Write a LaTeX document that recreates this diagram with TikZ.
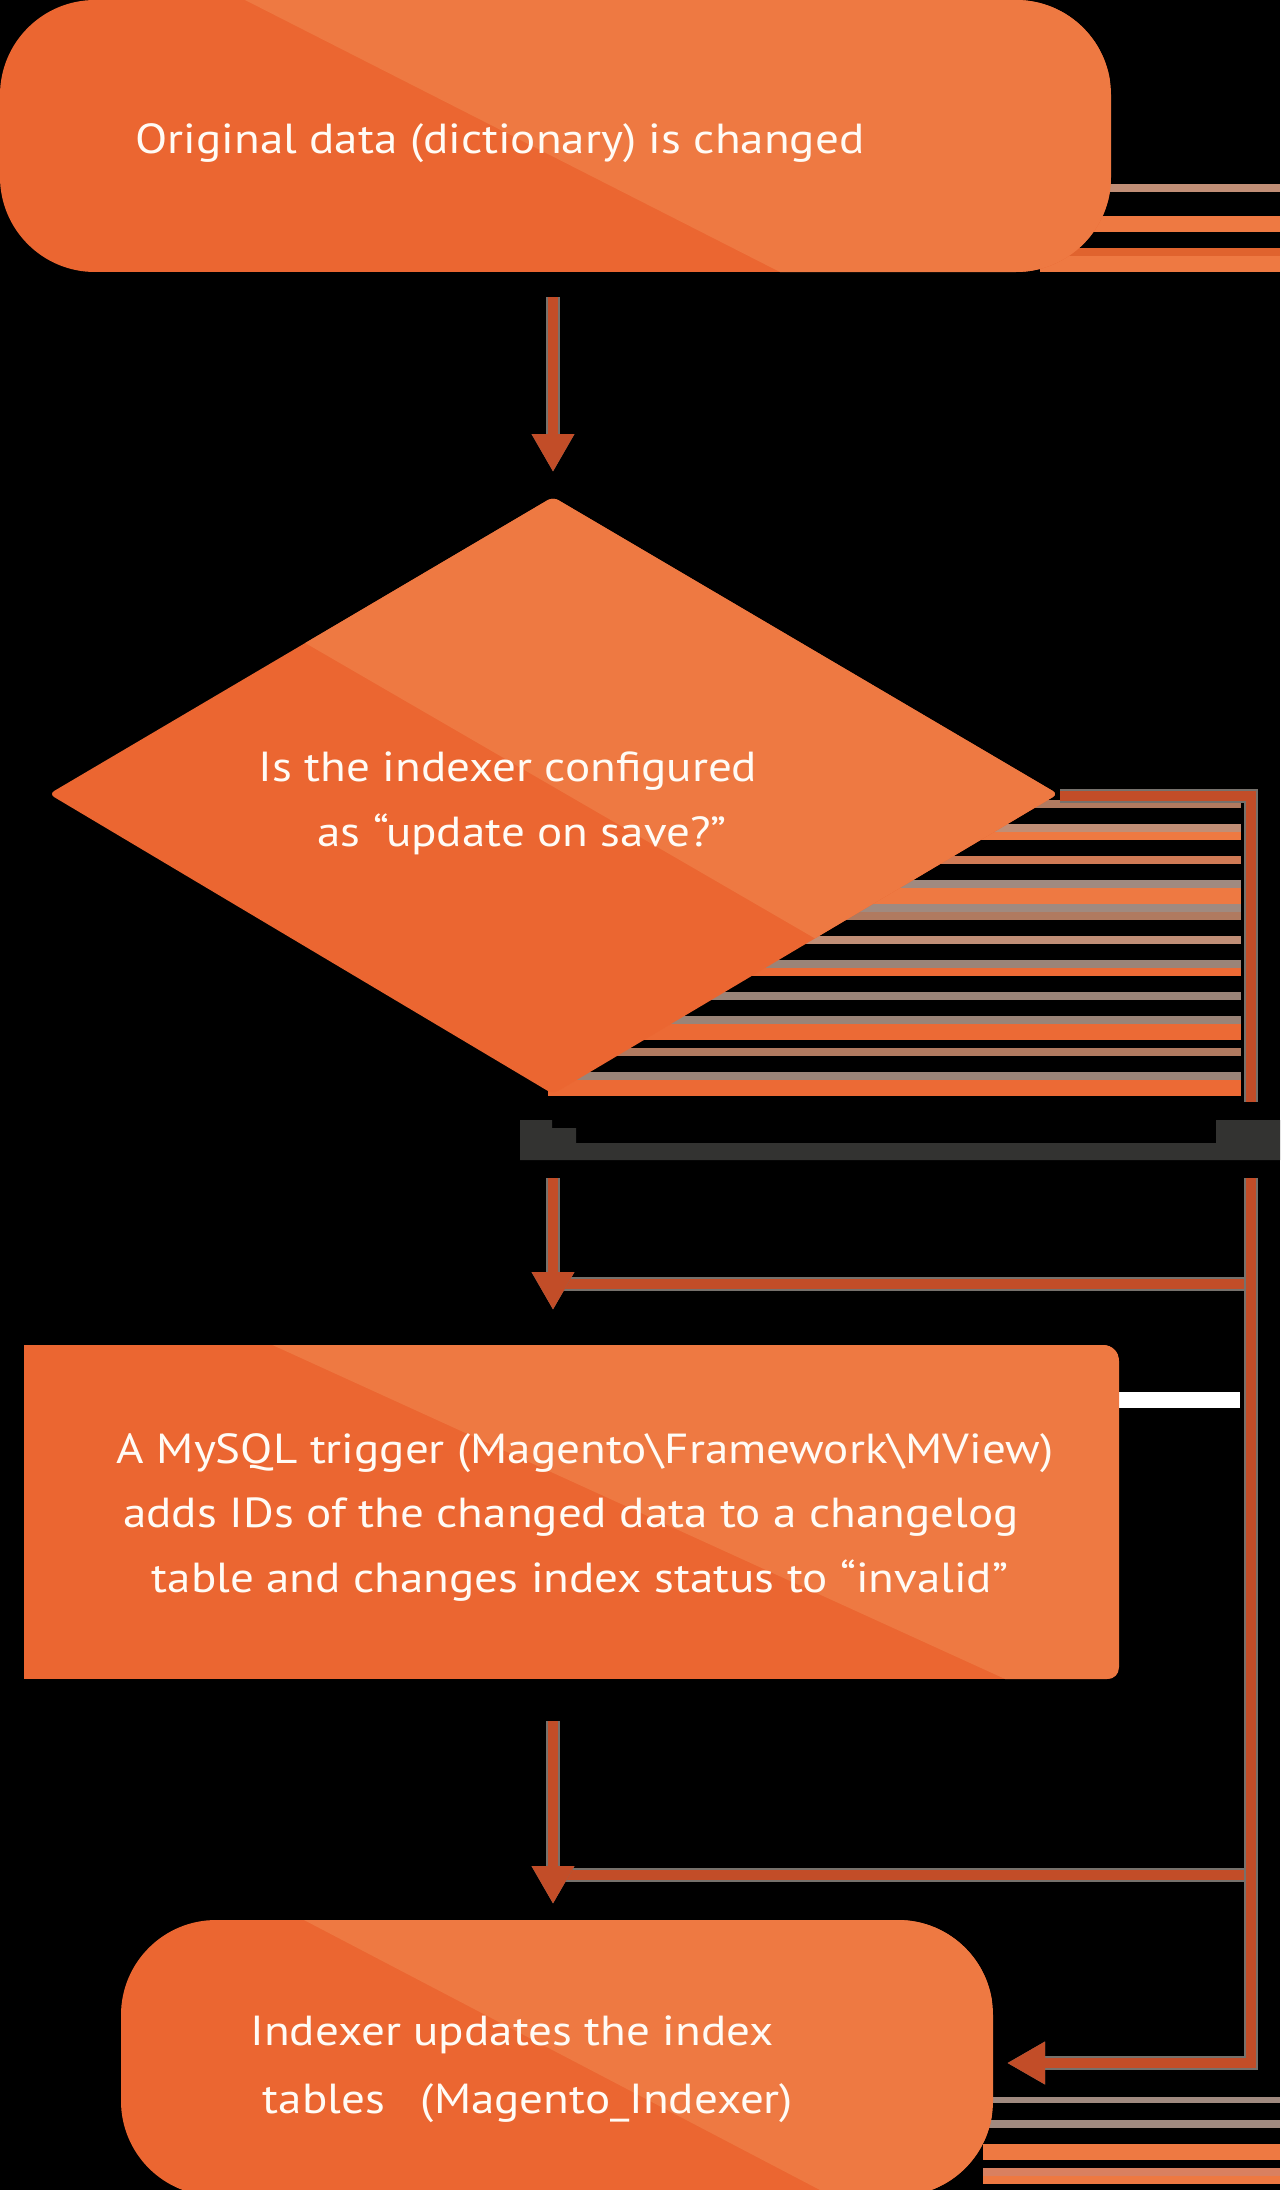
\documentclass[tikz,border=0pt]{standalone}
\usepackage{fontspec}
\setmainfont{PT Sans}[FakeStretch=1.12]
\usetikzlibrary{arrows.meta}

\definecolor{ordark}{HTML}{EB6631}
\definecolor{orlight}{HTML}{EE7942}
\definecolor{rust}{HTML}{C24D28}
\definecolor{halo}{HTML}{76716C}
\definecolor{barcol}{HTML}{333331}
\definecolor{txt}{HTML}{FFFBF5}
\definecolor{tanA}{HTML}{B07A60}
\definecolor{tanB}{HTML}{C08E76}
\definecolor{tanC}{HTML}{D07A55}
\definecolor{tanD}{HTML}{A08A80}
\definecolor{tanE}{HTML}{9A8478}
\definecolor{orB}{HTML}{EC6A35}
\definecolor{orC}{HTML}{E0632E}
\definecolor{orD}{HTML}{D98060}

\tikzset{
  conn/.style={draw=rust, line width=10pt, preaction={draw=halo, line width=14pt}},
  tip/.style={-{Triangle[width=40pt,length=38pt]}},
  label/.style={text=txt, font=\fontsize{42}{64}\selectfont, inner sep=0pt, anchor=base},
}

\begin{document}
\begin{tikzpicture}[x=1pt,y=-1pt]
\useasboundingbox (0,0) rectangle (1280,2190);
\fill[black] (0,0) rectangle (1280,2190);

% horizontal bands behind the shapes on the right
\foreach \ya/\yb/\c in {184/192/tanB, 216/232/orlight, 248/256/orC, 256/272/orlight}
  \fill[\c] (1040,\ya) rectangle (1280,\yb);
\foreach \ya/\yb/\c in {800/808/tanA, 824/832/tanB, 832/840/orlight, 856/864/tanC,
    880/888/tanD, 888/904/orlight, 904/912/tanD, 912/920/tanA, 936/944/tanB,
    960/968/tanE, 968/976/orB, 992/1000/tanE, 1016/1024/tanE, 1024/1040/orB,
    1048/1056/tanA, 1072/1080/tanE, 1080/1096/orB}
  \fill[\c] (548,\ya) rectangle (1241,\yb);
\foreach \ya/\yb/\c in {2097/2103/tanD, 2120/2128/tanD, 2144/2160/orlight, 2168/2176/orD, 2176/2184/orlight}
  \fill[\c] (983,\ya) rectangle (1280,\yb);
\fill[white] (1110,1392) rectangle (1240,1408);

% start terminal
\begin{scope}
  \clip[rounded corners=95pt] (0,0) rectangle (1111,272);
  \fill[ordark] (0,0) rectangle (1111,272);
  \fill[orlight] (245,0) -- (780,272) -- (1200,272) -- (1200,0) -- cycle;
\end{scope}
\node[label] (start) at (500,153) {Original data (dictionary) is changed};

% decision
\begin{scope}
  \clip[rounded corners=6pt] (553,497) -- (1058,794) -- (553,1094) -- (49,794) -- cycle;
  \fill[ordark] (40,490) rectangle (1070,1100);
  \fill[orlight] (-202,349) -- (1325,1234) -- (1325,349) -- cycle;
\end{scope}
\node[label] (dec1) at (508,781) {Is the indexer configured};
\node[label] (dec2) at (522,846) {as “update on save?”};

% process box
\begin{scope}
  \clip (24,1345) -- (1103,1345) .. controls (1112,1345) and (1119,1352) .. (1119,1361)
        -- (1119,1667) .. controls (1119,1674) and (1114,1679) .. (1107,1679) -- (24,1679) -- cycle;
  \fill[ordark] (24,1345) rectangle (1119,1679);
  \fill[orlight] (-412,1033) -- (1694,1993) -- (1694,1033) -- cycle;
\end{scope}
\node[label] (proc1) at (585,1463) {A MySQL trigger (Magento\textbackslash Framework\textbackslash MView)};
\node[label] (proc2) at (571,1527) {adds IDs of the changed data to a changelog};
\node[label] (proc3) at (580,1592) {table and changes index status to “invalid”};

% end terminal
\begin{scope}
  \clip[rounded corners=95pt] (121,1920) rectangle (993,2196);
  \fill[ordark] (121,1920) rectangle (993,2196);
  \fill[orlight] (46,1785) -- (1078,2325) -- (1300,2325) -- (1300,1785) -- cycle;
\end{scope}
\node[label] (end1) at (512,2045) {Indexer updates the index};
\node[label] (end2) at (528,2113) {tables\hspace{36pt}(Magento\_Indexer)};

% connector end points
\coordinate (a1s) at (553,297);
\coordinate (a1e) at (553,472);
\coordinate (dR) at (1060,796);
\coordinate (rTop) at (1251,1102);
\coordinate (a2s) at (553,1178);
\coordinate (a2e) at (553,1310);
\coordinate (rS) at (1251,1178);
\coordinate (rEnd) at (1007,2063);
\coordinate (j1) at (1251,1284);
\coordinate (j1e) at (560,1284);
\coordinate (a3s) at (553,1721);
\coordinate (a3e) at (553,1904);
\coordinate (j2) at (1251,1875);
\coordinate (j2e) at (560,1875);

\draw[conn] (j1) -- (j1e);
\draw[conn] (j2) -- (j2e);
\draw[conn, tip] (a1s) -- (a1e);
\draw[conn] (dR) -| (rTop);
\draw[conn, tip] (a2s) -- (a2e);
\draw[conn, tip] (rS) |- (rEnd);
\draw[conn, tip] (a3s) -- (a3e);

% yes / no bar
\fill[barcol] (520,1120) -- (552,1120) -- (552,1128) -- (576,1128) -- (576,1143)
  -- (1216,1143) -- (1216,1120) -- (1280,1120) -- (1280,1160) -- (520,1160) -- cycle;
\end{tikzpicture}
\end{document}
